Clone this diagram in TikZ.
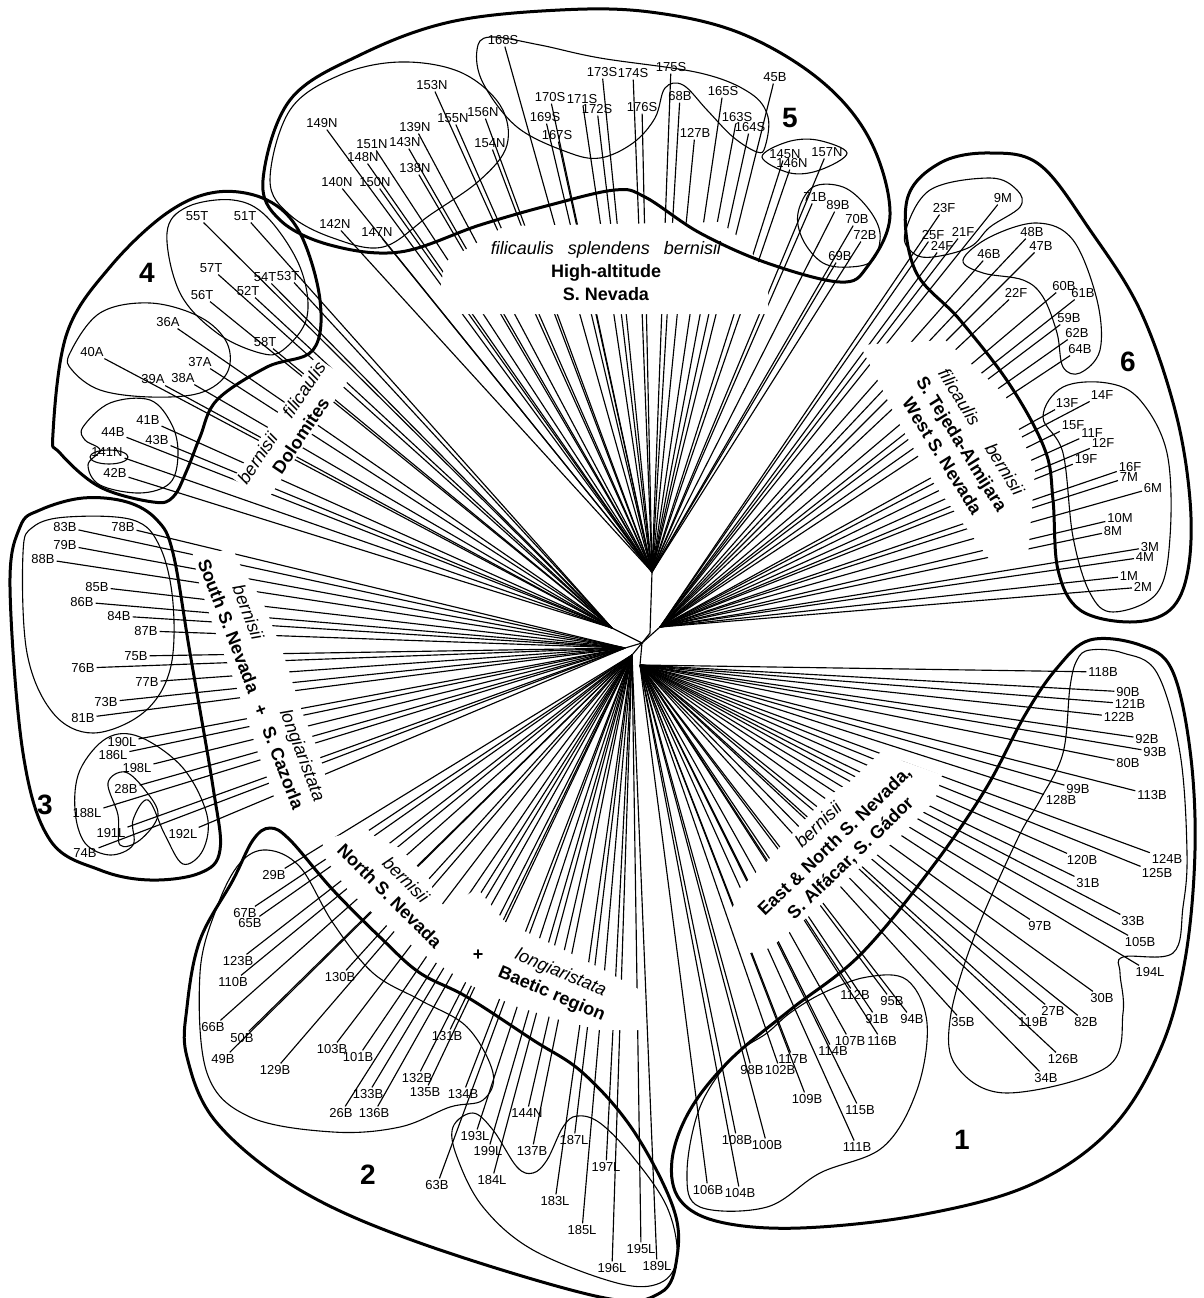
\documentclass[tikz,border=0pt]{standalone}
\usepackage{fontspec}
\setmainfont{Liberation Sans}

\begin{document}
\begin{tikzpicture}[x=1pt,y=-1pt,
    tip/.style={font=\fontsize{13}{15}\selectfont, inner sep=0.5pt, outer sep=1.5pt},
    branch/.style={black, line width=1.15pt},
    clade/.style={black, line width=3pt},
    subclade/.style={black, line width=1.1pt},
    region/.style={font=\fontsize{18}{23}\selectfont\bfseries, fill=white, inner sep=2pt, align=center},
    cladenum/.style={font=\fontsize{28}{30}\selectfont\bfseries}]

    \useasboundingbox (0,0) rectangle (1203,1298);

    % Inner nodes of the tree
    \coordinate (centre) at (642,643);
    \coordinate (hub5) at (652,572);
    \coordinate (stem5) at (650,633);
    \coordinate (hub6) at (660,627);
    \coordinate (hub4) at (612,628);
    \coordinate (hub3) at (625,648);
    \coordinate (hub2) at (632,655);
    \coordinate (hub1) at (640,665);
    \draw[branch] (hub5) -- (stem5) -- (centre);
    \draw[branch] (hub6) -- (centre) -- (hub1);
    \draw[branch] (hub4) -- (centre) -- (hub3);
    \draw[branch] (centre) -- (hub2);

    % Group 5
    \foreach \lab/\x/\y in {168S/503/40, 153N/432/85, 155N/453/118, 156N/483/112, 154N/490/143,
        170S/550/97, 171S/582/99, 172S/597/109, 169S/545/117, 167S/557/135, 173S/602/72,
        174S/633/73, 175S/671/67, 176S/642/107, 68B/680/96, 165S/723/91, 163S/737/117,
        164S/750/127, 127B/695/133, 45B/775/77, 145N/785/154, 146N/792/163, 157N/827/152,
        71B/815/197, 89B/838/205, 70B/857/219, 72B/865/235, 69B/840/256, 149N/322/123,
        151N/372/144, 143N/405/142, 139N/415/127, 148N/363/157, 138N/415/168, 140N/337/182,
        150N/375/182, 142N/335/224, 147N/377/232}
        {\node[tip] (t\lab) at (\x,\y) {\lab}; \draw[branch] (hub5) -- (t\lab);}

    % Group 6
    \foreach \lab/\x/\y in {23F/944/208, 9M/1003/198, 25F/933/235, 21F/963/232, 24F/942/246,
        48B/1032/232, 47B/1041/246, 46B/989/254, 22F/1016/293, 60B/1064/286, 61B/1083/293,
        59B/1069/318, 62B/1077/333, 64B/1080/349, 14F/1102/395, 13F/1067/403, 15F/1073/425,
        11F/1092/433, 12F/1103/443, 19F/1086/459, 16F/1130/467, 7M/1129/477, 6M/1153/488,
        10M/1120/518, 8M/1113/531, 3M/1150/547, 4M/1145/557, 1M/1129/576, 2M/1143/587}
        {\node[tip] (t\lab) at (\x,\y) {\lab}; \draw[branch] (hub6) -- (t\lab);}

    % Group 1
    \foreach \lab/\x/\y in {118B/1103/672, 90B/1128/692, 121B/1130/704, 122B/1119/717,
        92B/1147/739, 93B/1155/752, 80B/1128/763, 113B/1152/795, 99B/1078/789, 128B/1061/800,
        120B/1082/860, 124B/1167/859, 125B/1157/873, 31B/1088/883, 33B/1133/921, 97B/1040/926,
        105B/1140/942, 194L/1150/972, 30B/1102/998, 27B/1053/1011, 119B/1033/1022,
        82B/1086/1022, 35B/963/1022, 126B/1063/1059, 34B/1046/1078, 112B/855/995,
        95B/892/1001, 91B/877/1019, 94B/912/1019, 107B/850/1041, 116B/882/1041,
        114B/833/1051, 117B/793/1059, 98B/752/1070, 102B/780/1070, 109B/807/1099,
        115B/860/1110, 111B/857/1147, 108B/737/1140, 100B/767/1145, 106B/708/1190,
        104B/740/1193}
        {\node[tip] (t\lab) at (\x,\y) {\lab}; \draw[branch] (hub1) -- (t\lab);}

    % Group 2
    \foreach \lab/\x/\y in {29B/274/875, 67B/245/913, 65B/250/923, 123B/238/961, 110B/233/982,
        130B/340/977, 66B/213/1027, 50B/242/1038, 49B/223/1059, 129B/275/1070, 103B/332/1049,
        101B/358/1057, 133B/368/1094, 26B/341/1113, 136B/374/1113, 131B/447/1036,
        132B/417/1078, 135B/425/1092, 134B/463/1094, 144N/527/1113, 193L/475/1136,
        199L/488/1151, 137B/532/1151, 187L/574/1140, 63B/437/1185, 184L/492/1180,
        197L/606/1167, 183L/555/1201, 185L/582/1230, 195L/641/1249, 196L/612/1268,
        189L/657/1266}
        {\node[tip] (t\lab) at (\x,\y) {\lab}; \draw[branch] (hub2) -- (t\lab);}

    % Group 3
    \foreach \lab/\x/\y in {83B/65/527, 78B/123/527, 79B/65/545, 88B/43/559, 85B/97/587,
        86B/82/602, 84B/119/616, 87B/146/631, 75B/136/656, 76B/83/668, 77B/147/682,
        73B/106/702, 81B/83/718, 190L/122/742, 186L/113/755, 198L/137/768, 28B/126/789,
        188L/87/813, 191L/111/833, 192L/183/834, 74B/85/853}
        {\node[tip] (t\lab) at (\x,\y) {\lab}; \draw[branch] (hub3) -- (t\lab);}

    % Group 4
    \foreach \lab/\x/\y in {55T/197/216, 51T/245/216, 57T/211/268, 54T/265/277, 53T/288/276,
        56T/202/295, 52T/248/291, 36A/168/322, 58T/265/342, 40A/92/352, 37A/200/362,
        39A/153/379, 38A/183/378, 41B/148/420, 44B/113/432, 43B/157/440, 141N/107/452,
        42B/115/473}
        {\node[tip] (t\lab) at (\x,\y) {\lab}; \draw[branch] (hub4) -- (t\lab);}

    % Breaks in the branches behind the labels
    \fill[white] (445,262) -- (505,226) -- (720,222) -- (742,240) -- (768,275) -- (768,314)
        -- (455,314) -- (440,290) -- cycle;
    \fill[white] (860,345) -- (945,340) -- (1005,395) -- (1035,470) -- (1028,555) -- (990,560)
        -- (935,485) -- (900,425) -- cycle;
    \fill[white] (728,915) -- (745,885) -- (770,858) -- (823,800) -- (860,775) -- (900,760)
        -- (942,775) -- (935,800) -- (900,837) -- (860,868) -- (810,915) -- (770,948)
        -- (742,955) -- cycle;
    \fill[white] (322,840) -- (360,830) -- (400,848) -- (430,880) -- (440,915) -- (477,888)
        -- (505,922) -- (560,948) -- (600,968) -- (640,990) -- (642,1030) -- (600,1030)
        -- (560,1020) -- (515,1006) -- (470,985) -- (420,952) -- (380,920) -- (348,890)
        -- (325,858) -- cycle;
    \fill[white] (192,550) -- (232,552) -- (262,600) -- (282,650) -- (302,712) -- (318,750)
        -- (328,785) -- (318,812) -- (277,805) -- (258,753) -- (237,688) -- (215,631)
        -- (198,580) -- cycle;

    % Region labels
    \node[region] (place5) at (606,271)
        {{\mdseries\itshape filicaulis\hspace{14pt}splendens\hspace{14pt}bernisii}\\High-altitude\\S. Nevada};
    \node[region, rotate=56] (place4) at (291,429)
        {{\mdseries\itshape bernisii\hspace{23pt}filicaulis}\\Dolomites};
    \node[region, rotate=-69, align=right] (place3) at (262,680)
        {{\mdseries\itshape bernisii\hspace{76pt}longiaristata}\\South S. Nevada\hspace{14pt}+\hspace{13pt}S. Cazorla};
    \node[region, rotate=-45] (place2a) at (398,888)
        {{\mdseries\itshape bernisii}\\North S. Nevada};
    \node[region] (plus2) at (478,955) {+};
    \node[region, rotate=-23] (place2b) at (556,984)
        {{\mdseries\itshape longiaristata}\\Baetic region};
    \node[region, rotate=44] (place1) at (835,842)
        {{\mdseries\itshape bernisii}\\East \& North S. Nevada,\\S. Alfácar, S. Gádor};
    \node[region, rotate=-58] (place6) at (962,444)
        {{\mdseries\itshape filicaulis\hspace{25pt}bernisii}\\S. Tejeda-Almijara\\West S. Nevada};

    % Group outlines
    \draw[clade] plot[smooth cycle, tension=0.6] coordinates {(263,180) (290,100) (360,55)
        (450,22) (560,10) (650,12) (740,33) (820,80) (870,140) (890,215) (867,267) (840,282)
        (767,263) (700,233) (645,197) (615,190) (550,205) (480,225) (400,252) (330,245) (280,220)};
    \draw[subclade] plot[smooth cycle, tension=0.6] coordinates {(270,180) (290,110) (340,75)
        (400,62) (460,72) (500,105) (507,145) (480,180) (430,215) (383,247) (333,238) (290,215)};
    \draw[subclade] plot[smooth cycle, tension=0.6] coordinates {(477,50) (490,37) (540,45)
        (600,58) (700,73) (750,93) (768,117) (765,147) (757,152) (733,137) (707,110) (683,85)
        (665,88) (655,118) (633,143) (600,158) (567,152) (517,127) (483,83)};
    \draw[subclade] plot[smooth cycle, tension=0.6] coordinates {(762,157) (787,142) (817,140)
        (847,153) (820,170) (790,173)};
    \draw[subclade] plot[smooth cycle, tension=0.6] coordinates {(798,213) (813,187) (843,187)
        (867,207) (880,233) (873,260) (850,267) (823,263) (803,240)};

    \draw[clade] plot[smooth cycle, tension=0.6] coordinates {(907,200) (940,163) (990,153)
        (1040,165) (1090,230) (1140,310) (1175,410) (1190,500) (1188,570) (1170,610) (1130,622)
        (1080,610) (1058,570) (1053,500) (1045,450) (1010,385) (960,320) (915,270)};
    \draw[subclade] plot[smooth cycle, tension=0.6] coordinates {(905,233) (930,190) (990,178)
        (1017,190) (1020,207) (990,227) (970,247) (933,257) (913,253)};
    \draw[subclade] plot[smooth cycle, tension=0.6] coordinates {(963,260) (990,237) (1037,223)
        (1073,240) (1097,300) (1100,350) (1080,373) (1063,367) (1057,333) (1043,297) (1023,280)
        (983,273)};
    \draw[subclade] plot[smooth cycle, tension=0.6] coordinates {(1043,417) (1063,387)
        (1107,383) (1140,400) (1167,453) (1170,537) (1157,593) (1113,612) (1090,593) (1073,537)
        (1063,453)};

    \draw[clade] plot[smooth cycle, tension=0.6] coordinates {(1057,668) (1090,640) (1140,645)
        (1172,670) (1190,750) (1195,850) (1185,960) (1160,1050) (1110,1130) (1030,1185)
        (920,1215) (800,1228) (720,1222) (680,1200) (672,1160) (690,1110) (730,1060) (790,1010)
        (860,955) (930,870) (985,790) (1025,715)};
    \draw[subclade] plot[smooth cycle, tension=0.6] coordinates {(1077,660) (1090,650)
        (1123,653) (1157,673) (1180,753) (1187,853) (1183,907) (1173,953) (1123,957) (1120,973)
        (1123,1013) (1107,1067) (1007,1093) (957,1067) (950,1020) (973,940) (1017,840)
        (1040,800) (1063,753) (1070,687)};
    \draw[subclade] plot[smooth cycle, tension=0.6] coordinates {(823,993) (867,977) (907,980)
        (927,1023) (917,1090) (883,1147) (820,1173) (767,1207) (700,1207) (687,1173) (700,1107)
        (733,1057) (767,1033) (790,1013)};

    \draw[clade] plot[smooth cycle, tension=0.6] coordinates {(187,1007) (200,940) (233,880)
        (253,840) (270,828) (290,840) (333,890) (383,940) (420,973) (467,997) (533,1040)
        (583,1073) (633,1130) (673,1207) (677,1257) (660,1293) (600,1297) (420,1243) (300,1190)
        (217,1123) (187,1057)};
    \draw[subclade] plot[smooth cycle, tension=0.6] coordinates {(267,850) (300,867) (333,923)
        (373,973) (420,1000) (467,1027) (493,1073) (483,1100) (450,1107) (400,1127) (333,1132)
        (250,1117) (207,1073) (200,973) (217,907) (240,863)};
    \draw[subclade] plot[smooth cycle, tension=0.6] coordinates {(453,1127) (473,1113)
        (493,1130) (517,1167) (533,1173) (547,1160) (563,1127) (577,1116) (600,1123) (633,1157)
        (667,1207) (677,1257) (660,1283) (617,1283) (533,1250) (483,1207) (457,1157)};

    \draw[clade] plot[smooth cycle, tension=0.6] coordinates {(40,510) (83,498) (127,502)
        (157,520) (173,553) (190,653) (213,787) (220,850) (200,873) (150,880) (100,870) (50,840)
        (23,753) (10,587) (20,527)};
    \draw[subclade] plot[smooth cycle, tension=0.6] coordinates {(23,553) (33,527) (67,517)
        (133,520) (160,547) (173,603) (170,670) (143,713) (93,733) (53,713) (27,653)};
    \draw[subclade] plot[smooth cycle, tension=0.6] coordinates {(107,738) (140,737) (183,768)
        (207,815) (203,850) (183,864) (165,835) (148,800) (133,820) (133,845) (110,855) (85,843)
        (75,810) (80,770)};
    \draw[subclade] plot[smooth cycle, tension=0.6] coordinates {(108,783) (125,772) (145,790)
        (158,815) (140,840) (120,845) (118,815)};

    \draw[clade] plot[smooth cycle, tension=0.6] coordinates {(53,433) (67,333) (110,267)
        (167,213) (217,192) (267,200) (300,233) (320,300) (313,350) (267,367) (217,400)
        (200,437) (187,470) (173,497) (153,502) (100,487) (60,453)};
    \draw[subclade] plot[smooth cycle, tension=0.6] coordinates {(167,233) (187,207) (233,200)
        (267,217) (300,267) (307,317) (283,350) (260,353) (217,333) (180,293)};
    \draw[subclade] plot[smooth cycle, tension=0.6] coordinates {(70,353) (100,313) (150,303)
        (200,317) (227,343) (227,373) (200,393) (150,397) (100,390) (72,370)};
    \draw[subclade] plot[smooth cycle, tension=0.6] coordinates {(83,427) (110,403) (150,400)
        (172,425) (178,455) (170,483) (140,493) (100,485) (88,465) (100,450) (85,440)};
    \draw[subclade] (109,457) ellipse [x radius=19pt, y radius=7pt];

    % Group numbers
    \node[cladenum] (num1) at (962,1140) {1};
    \node[cladenum] (num2) at (368,1175) {2};
    \node[cladenum] (num3) at (45,805) {3};
    \node[cladenum] (num4) at (147,273) {4};
    \node[cladenum] (num5) at (790,118) {5};
    \node[cladenum] (num6) at (1128,362) {6};
\end{tikzpicture}
\end{document}
